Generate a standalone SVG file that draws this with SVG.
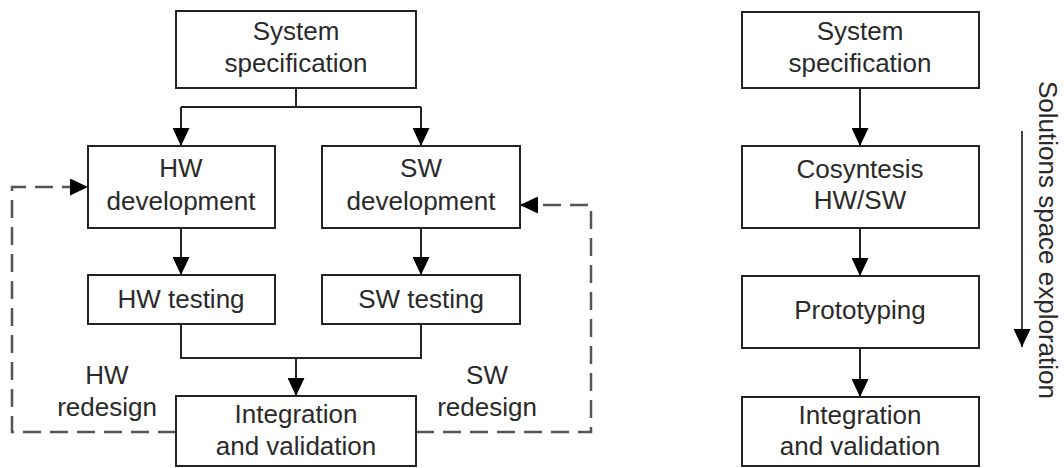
<svg xmlns="http://www.w3.org/2000/svg" width="1064" height="468" viewBox="0 0 1064 468">
<style>
.box{fill:#fff;stroke:#222;stroke-width:2}
.t{font-family:"Liberation Sans",Arial,sans-serif;font-size:26px;fill:#2a2a2a;text-anchor:middle}
.ln{fill:none;stroke:#222;stroke-width:2}
.ds{fill:none;stroke:#555;stroke-width:2.5;stroke-dasharray:18 9}
</style>
<defs>
<marker id="ah" markerUnits="userSpaceOnUse" markerWidth="18" markerHeight="17" refX="18" refY="8.5" orient="auto">
<path d="M0,0 L18,8.5 L0,17 z" fill="#000"/>
</marker>
</defs>
<g id="connectors">
<path class="ln" d="M296,88 V107 M181,107 H421"/>
<path class="ln" d="M181,107 V146" marker-end="url(#ah)"/>
<path class="ln" d="M421,107 V146" marker-end="url(#ah)"/>
<path class="ln" d="M181,228 V275" marker-end="url(#ah)"/>
<path class="ln" d="M421,228 V275" marker-end="url(#ah)"/>
<path class="ln" d="M181,324 V358 H421 V324"/>
<path class="ln" d="M296,358 V396" marker-end="url(#ah)"/>
<path class="ds" d="M176,432 H12 V187 H88" marker-end="url(#ah)"/>
<path class="ds" d="M416,432 H591 V205 H520" marker-end="url(#ah)"/>
<path class="ln" d="M860,88 V146" marker-end="url(#ah)"/>
<path class="ln" d="M860,228 V276" marker-end="url(#ah)"/>
<path class="ln" d="M860,348 V397" marker-end="url(#ah)"/>
<path d="M1022,131 V347" stroke="#444" stroke-width="2" fill="none" marker-end="url(#ah)"/>
</g>
<g id="sysspec-left"><rect class="box" x="176" y="11" width="240" height="77"/><text class="t" x="296" y="40">System</text><text class="t" x="296" y="72">specification</text></g>
<g id="hw-dev"><rect class="box" x="88" y="146" width="187" height="82"/><text class="t" x="181" y="177">HW</text><text class="t" x="181" y="210">development</text></g>
<g id="sw-dev"><rect class="box" x="322" y="146" width="198" height="82"/><text class="t" x="421" y="177">SW</text><text class="t" x="421" y="210">development</text></g>
<g id="hw-test"><rect class="box" x="88" y="275" width="187" height="49"/><text class="t" x="181" y="308">HW testing</text></g>
<g id="sw-test"><rect class="box" x="322" y="275" width="198" height="49"/><text class="t" x="421" y="308">SW testing</text></g>
<g id="integ-left"><rect class="box" x="176" y="396" width="240" height="70"/><text class="t" x="296" y="423">Integration</text><text class="t" x="296" y="455">and validation</text></g>
<g id="hw-redesign"><text class="t" x="107" y="384">HW</text><text class="t" x="107" y="416">redesign</text></g>
<g id="sw-redesign"><text class="t" x="487" y="384">SW</text><text class="t" x="487" y="416">redesign</text></g>
<g id="sysspec-right"><rect class="box" x="742" y="12" width="237" height="76"/><text class="t" x="860" y="40">System</text><text class="t" x="860" y="72">specification</text></g>
<g id="cosyn"><rect class="box" x="742" y="146" width="237" height="82"/><text class="t" x="860" y="178">Cosyntesis</text><text class="t" x="860" y="209">HW/SW</text></g>
<g id="proto"><rect class="box" x="742" y="276" width="237" height="72"/><text class="t" x="860" y="319">Prototyping</text></g>
<g id="integ-right"><rect class="box" x="742" y="397" width="237" height="69"/><text class="t" x="860" y="424">Integration</text><text class="t" x="860" y="455">and validation</text></g>
<g id="exploration"><text class="t" transform="translate(1039,240) rotate(90)">Solutions space exploration</text></g>
</svg>
